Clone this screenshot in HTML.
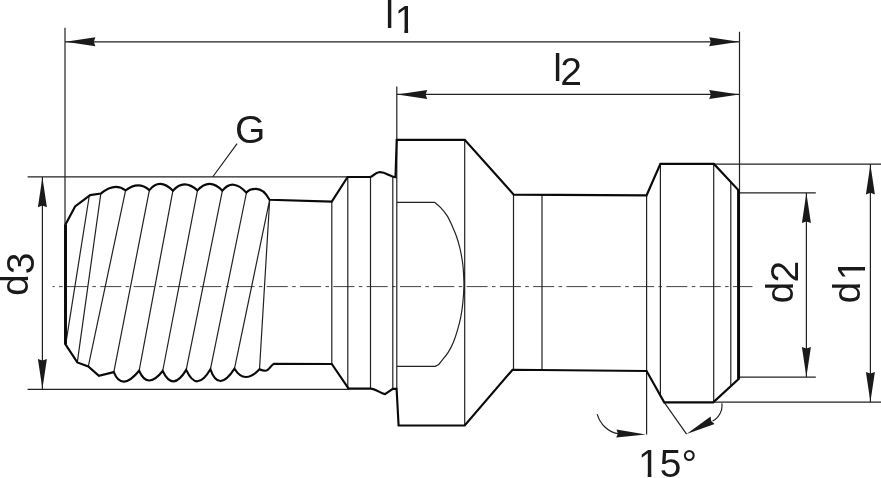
<!DOCTYPE html>
<html><head><meta charset="utf-8"><title>drawing</title>
<style>
html,body{margin:0;padding:0;background:#fff;}
svg{display:block;filter:grayscale(1)}
text{font-family:"Liberation Sans",Arial,sans-serif;font-size:39px;fill:#1a1a1a}
</style></head><body>
<svg width="881" height="478" viewBox="0 0 881 478">
<rect width="881" height="478" fill="#fff"/>
<path d="M52.5,286.6 H752.5" fill="none" stroke="#444" stroke-width="1" stroke-dasharray="21 4.4 3.5 4.4" stroke-dashoffset="18.8"/>
<path d="M89.1,197 L65.7,344.4 M100.8,193.6 L77.3,362.4 M125.6,190.4 L88.3,366.4 M149.4,190.1 L113.8,372.1 M172.9,190.7 L139.1,370.8 M197.5,190.4 L162.7,371 M222.4,190.7 L186.2,369.9 M246.5,192.5 L210.4,369.3 M269.7,199.7 L234.5,368.7 M269.7,199.7 L259.5,369.3 M331.8,201.6 V364 M347.8,177 V388.6 M370.5,177 V388.6 M392.8,177 V388.4 M396.8,86.4 V388.3 M464.7,139.6 V425.5 M513.5,194.6 V369.4 M542,194.8 V369 M646.6,195.3 V434.5 M660.4,163.9 V395.6 M713.7,163.9 V402.4 M730.8,182 V386 M397,202.3 H434.6 M434.6,202.3 C435.7,203.2 438.8,205.5 440.9,207.8 C443.0,210.1 445.3,212.8 447.2,215.9 C449.1,219.0 450.8,222.9 452.4,226.4 C454.0,229.9 455.4,233.3 456.6,236.8 C457.8,240.3 458.8,243.8 459.7,247.3 C460.6,250.8 461.2,254.2 461.8,257.7 C462.4,261.2 462.9,264.7 463.2,268.2 C463.5,271.7 463.7,275.6 463.8,278.7 C463.9,281.8 464.0,282.6 463.9,286.5 C463.8,290.4 463.4,297.1 462.9,302.2 C462.4,307.2 461.7,312.3 460.8,316.8 C459.9,321.3 458.9,325.2 457.7,329.4 C456.5,333.6 455.1,338.1 453.5,341.9 C451.9,345.7 450.2,349.2 448.2,352.4 C446.2,355.5 443.2,358.8 441.6,360.8 C440.0,362.8 439.7,363.6 438.6,364.5 C437.5,365.4 435.6,366.1 435,366.4 H397 M664.2,402.4 L686.6,434.1 M65,27.8 V224 M739.5,31.7 V190 M65,41.8 H739.5 M397,94.4 H739.5 M27.6,176.9 H348 M27.6,389.3 H348.6 M42.4,176.9 V389.3 M714,164.1 H881 M713,402.2 H881 M739,192.8 H815.8 M739,377.1 H815.8 M806.4,192.8 V377.1 M870.4,164.1 V402.2 M237.1,143.7 L213,176.5 M597.2,414.1 C600,424 608,432 618,433.6 M721.8,403.3 C723,410 719,418 712.6,421 " fill="none" stroke="#222" stroke-width="1.2"/>
<path d="M65.5,344.4 L65.5,224.6 L75.1,206.4 L90.2,195.1 L100.8,193.6 Q114.8,182.0 125.6,190.4 Q138.3,180.4 149.4,190.1 Q159.5,177.4 172.9,190.7 Q183.8,178.1 197.5,190.4 Q209.4,177.2 222.4,190.7 Q232.8,177.8 246.3,192.6 C248.5,189.6 252,188.8 256,188.8 C262,188.8 266.5,194 269.5,199.8 L331.8,201.6 L347.6,177 L370.2,177 C373,176.8 375,172.6 379,172.2 C383,171.8 386,173.5 389,175 C391.5,176.3 393.5,177 395.5,177.2 L396.7,139.8 L464.7,139.8 L513.7,194.6 L646.6,195.3 L660.4,163.9 L713.9,163.9 L738.6,190.3 L738.6,379 L713.2,402.4 L664.2,402.4 L646.6,371 L512.5,369.8 L464.7,425.5 L398.6,425.5 L396.6,388.8 L392.8,388.8 L385,394.1 C380,393.5 376,388.6 370.7,388.6 L348.6,388.6 L331.8,364 L273.8,363.9 C270,366 269,370.7 265.6,370.7 C263,370.7 261,370 259.5,369.3 Q244.6,385.0 234.5,368.7 Q218.8,393.0 210.4,369.3 Q196.7,393.0 186.2,369.9 Q172.8,392.2 162.7,371 Q147.5,390.1 139.1,370.8 Q121.8,391.9 113.8,372.1 L98.9,375.8 L88.3,366.4 L77.3,362.4 Z" fill="none" stroke="#0a0a0a" stroke-width="2.15" stroke-linejoin="miter"/>
<path d="M738.6,190 V379.3 M65.5,224.4 V344.6" fill="none" stroke="#0a0a0a" stroke-width="2.9"/>
<path d="M65.4,41.8 L95.4,37.3 L93.8,41.8 L95.4,46.3 Z M739.2,41.8 L709.2,46.3 L710.8,41.8 L709.2,37.3 Z M397.2,94.4 L427.2,89.9 L425.6,94.4 L427.2,98.9 Z M739.2,94.4 L709.2,98.9 L710.8,94.4 L709.2,89.9 Z M42.4,177.2 L46.9,207.2 L42.4,205.6 L37.9,207.2 Z M42.4,389.0 L37.9,359.0 L42.4,360.6 L46.9,359.0 Z M806.4,193.0 L810.9,223.0 L806.4,221.4 L801.9,223.0 Z M806.4,377.0 L801.9,347.0 L806.4,348.6 L810.9,347.0 Z M870.4,164.4 L874.9,194.4 L870.4,192.8 L865.9,194.4 Z M870.4,402.0 L865.9,372.0 L870.4,373.6 L874.9,372.0 Z M645.8,434.6 L616.2,437.6 L617.9,433.6 L616.5,429.6 Z M686.6,434.1 L710.6,416.4 L711.2,420.9 L714.6,423.9 Z " fill="#1a1a1a" stroke="none"/>
<defs>
<clipPath id="c1"><path d="M-3,-40 H30 V-3.5 H13.4 V2 H9.7 V-3.5 H-3 Z"/></clipPath>
<clipPath id="c15"><path d="M-3,-40 H80 V4 H-3 Z M-1,-3.5 H9.7 V3 H-1 Z M13.4,-3.5 H22 V3 H13.4 Z" clip-rule="evenodd"/></clipPath>
</defs>
<text x="385.3" y="27.8">l</text><text transform="translate(394.7,33)" clip-path="url(#c1)">1</text>
<text x="553.2" y="81.1">l</text><text x="560.2" y="85.4">2</text>
<text x="235" y="142.5">G</text>
<text transform="translate(638,477.3)" clip-path="url(#c15)">15°</text>
<text transform="translate(28.3,296) rotate(-90)">d</text><text transform="translate(33.6,274.3) rotate(-90)">3</text>
<text transform="translate(793.3,303.5) rotate(-90)">d</text><text transform="translate(798.2,282.5) rotate(-90)">2</text>
<text transform="translate(859.9,303.5) rotate(-90)">d</text><text transform="translate(864.9,280.3) rotate(-90)" clip-path="url(#c1)">1</text>
</svg>
</body></html>
